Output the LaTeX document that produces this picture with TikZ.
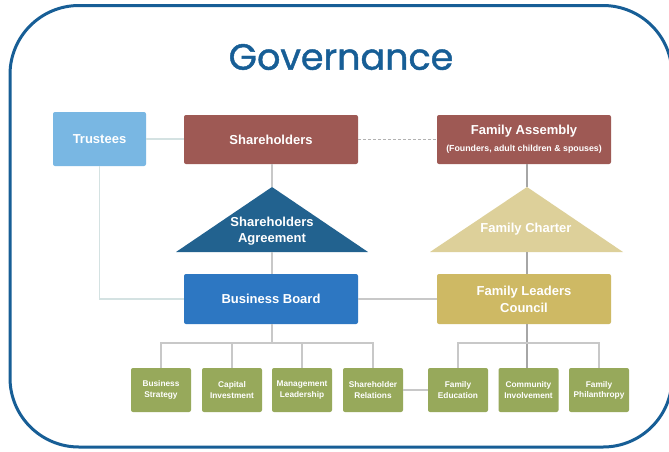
\documentclass[tikz,border=0pt]{standalone}
\usepackage{fontspec}
\setmainfont{Liberation Sans}
\newfontfamily\titlefont[FakeBold=1.2]{Poppins}
\begin{document}
\definecolor{frameblue}{HTML}{175E96}
\definecolor{trusteeblue}{HTML}{79B7E3}
\definecolor{brickred}{HTML}{9E5954}
\definecolor{agreeblue}{HTML}{22628F}
\definecolor{boardblue}{HTML}{2D77C2}
\definecolor{charterbeige}{HTML}{DDD09A}
\definecolor{councilgold}{HTML}{CEB964}
\definecolor{leafgreen}{HTML}{97A95B}
\definecolor{linkgrey}{HTML}{C8C8C8}
\definecolor{trusteelink}{HTML}{D4E2E2}
\begin{tikzpicture}[x=1pt,y=-1pt,
  box/.style={draw=none,rounded corners=2pt,text=white,align=center,
    font=\bfseries\fontsize{13}{16}\selectfont,inner sep=0pt},
  leaf/.style={box,fill=leafgreen,minimum width=60pt,minimum height=44pt,
    font=\bfseries\fontsize{8.3}{10.3}\selectfont},
  link/.style={draw=linkgrey,line width=1.2pt},
  tlink/.style={draw=trusteelink,line width=1.5pt},
  tritext/.style={text=white,align=center,font=\bfseries\fontsize{13}{16}\selectfont,inner sep=0pt}]
\useasboundingbox (0,0) rectangle (669,451);
\clip (0,0) rectangle (669,451);
\fill[white] (0,0) rectangle (669,451);

% outer frame and title
\draw[frameblue,line width=3pt,rounded corners=69pt] (10,5.5) rectangle (672,447);
\node[text=frameblue,font=\titlefont\fontsize{36.5}{42}\selectfont] (title) at (341,57) {Governance};

% upper row
\node[box,fill=trusteeblue,minimum width=93pt,minimum height=54pt] (trustees) at (99.5,139) {Trustees};
\node[box,fill=brickred,minimum width=174pt,minimum height=49pt] (shareholders) at (271,139.5) {Shareholders};
\node[box,fill=brickred,minimum width=174pt,minimum height=49pt,
  font=\bfseries\fontsize{13}{18}\selectfont] (assembly) at (524,139.5)
  {Family Assembly\\[-1pt]{\fontsize{8.8}{10}\selectfont(Founders, adult children \& spouses)}};

% agreement triangles
\fill[agreeblue] (176,252) -- (272,187) -- (368,252) -- cycle;
\coordinate (saTop) at (272,187);
\coordinate (saBase) at (272,252);
\node[tritext] (agreement) at (272,231) {Shareholders\\Agreement};
\fill[charterbeige] (430,252) -- (527,187) -- (623,252) -- cycle;
\coordinate (fcTop) at (527,187);
\coordinate (fcBase) at (527,252);
\node[tritext] (charter) at (526,229) {Family Charter};

% boards
\node[box,fill=boardblue,minimum width=174pt,minimum height=50pt] (board) at (271,299) {Business Board};
\node[box,fill=councilgold,minimum width=174pt,minimum height=50pt,
  font=\bfseries\fontsize{13}{17}\selectfont] (council) at (524,299) {Family Leaders\\Council};

% leaf boxes
\node[leaf] (strategy) at (161,390) {Business\\Strategy};
\node[leaf] (capital) at (232,390) {Capital\\Investment};
\node[leaf] (management) at (302,390) {Management\\Leadership};
\node[leaf] (relations) at (373,390) {Shareholder\\Relations};
\node[leaf] (education) at (458,390) {Family\\Education};
\node[leaf] (community) at (528.5,390) {Community\\Involvement};
\node[leaf] (philanthropy) at (599,390) {Family\\Philanthropy};

% connectors
\draw[tlink] (trustees.east) -- (trustees.east -| shareholders.west);
\draw[tlink] (trustees.south) |- (board.west);
\draw[draw=gray!60,line width=0.8pt,dash pattern=on 3pt off 2pt] (shareholders.east) -- (shareholders.east -| assembly.west);
\draw[link] (shareholders.south -| saTop) -- (saTop);
\draw[link] (saBase) -- (saBase |- board.north);
\draw[link,draw=gray!70] (assembly.south -| fcTop) -- (fcTop);
\draw[link,draw=gray!70] (fcBase) -- (fcBase |- council.north);
\draw[link] (board.east) -- (council.west);

\coordinate (bbar) at (272,343);
\draw[link] (board.south -| bbar) -- (bbar);
\draw[link] (strategy.north) |- (bbar) -| (relations.north);
\draw[link] (capital.north) -- (capital.north |- bbar);
\draw[link] (management.north) -- (management.north |- bbar);

\coordinate (fbar) at (527,343);
\draw[link,draw=gray!70] (council.south -| fbar) -- (community.north -| fbar);
\draw[link] (education.north) |- (fbar) -| (philanthropy.north);
\draw[link] (relations.east) -- (education.west);
\end{tikzpicture}
\end{document}
